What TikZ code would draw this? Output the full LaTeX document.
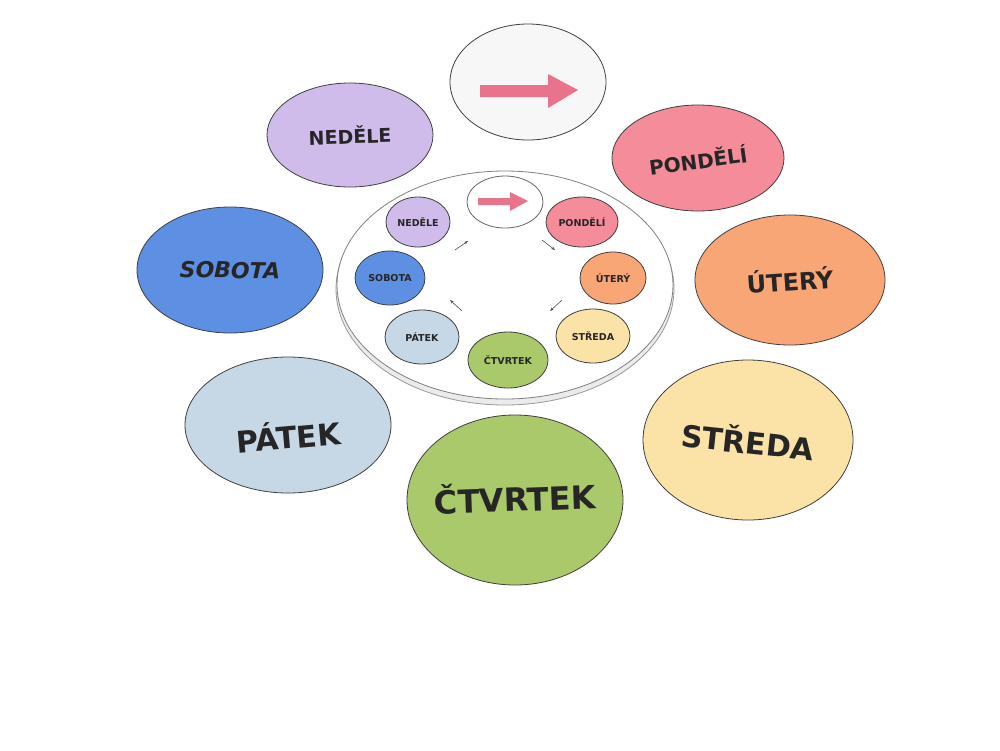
\documentclass[tikz,border=0pt]{standalone}
\usepackage{fontspec}
\setmainfont{DejaVu Sans}
\usetikzlibrary{shapes.geometric,arrows.meta}
\definecolor{cLav}{HTML}{CFBCEB}
\definecolor{cPink}{HTML}{F58C99}
\definecolor{cBlue}{HTML}{5D8FE2}
\definecolor{cOr}{HTML}{F9A677}
\definecolor{cLb}{HTML}{C6D8E6}
\definecolor{cYe}{HTML}{FBE2A6}
\definecolor{cGr}{HTML}{A9C96B}
\definecolor{cArr}{HTML}{E8738A}
\tikzset{
 disc/.style={ellipse,draw=black!75,line width=0.8pt,inner sep=0pt},
 lbl/.style={font=\bfseries,text=black!85},
 slbl/.style={text=black!85,font=\bfseries\fontsize{9.5}{10}\selectfont},
 tiny/.style={-{Stealth[length=4pt]},black!70,line width=0.6pt}
}
\begin{document}
\begin{tikzpicture}[x=1pt,y=-1pt]
\useasboundingbox (0,0) rectangle (1000,750);
\fill[white] (0,0) rectangle (1000,750);
% big discs
\node[disc,fill=black!3,minimum width=156,minimum height=116] (arr) at (528,82) {};
\fill[cArr] (480,85) -- (548,85) -- (548,74) -- (578,90) -- (548,108) -- (548,97) -- (480,97) -- cycle;
\node[disc,fill=cLav,minimum width=166,minimum height=104] (ne) at (350,135) {};
\node[lbl,font=\bfseries\fontsize{19}{19}\selectfont,rotate=2] (tne) at (ne) {NEDĚLE};
\node[disc,fill=cPink,minimum width=172,minimum height=106] (po) at (698,158) {};
\node[lbl,font=\bfseries\fontsize{20}{20}\selectfont,rotate=8] (tpo) at (698,160) {PONDĚLÍ};
\node[disc,fill=cBlue,minimum width=186,minimum height=126] (so) at (230,270) {};
\node[lbl,font=\bfseries\itshape\fontsize{22}{22}\selectfont,rotate=-1] (tso) at (so) {SOBOTA};
\node[disc,fill=cOr,minimum width=190,minimum height=130] (ut) at (790,280) {};
\node[lbl,font=\bfseries\fontsize{24}{24}\selectfont,rotate=4] (tut) at (ut) {ÚTERÝ};
\node[disc,fill=cLb,minimum width=206,minimum height=136] (pa) at (288,425) {};
\node[lbl,font=\bfseries\fontsize{30}{30}\selectfont,rotate=5] (tpa) at (288,435) {PÁTEK};
\node[disc,fill=cYe,minimum width=210,minimum height=160] (st) at (748,440) {};
\node[lbl,font=\bfseries\fontsize{30}{30}\selectfont,rotate=-6] (tst) at (748,440) {STŘEDA};
\node[disc,fill=cGr,minimum width=216,minimum height=170] (ct) at (515,500) {};
\node[lbl,font=\bfseries\fontsize{32}{32}\selectfont,rotate=2] (tct) at (515,497) {ČTVRTEK};
% central plate
\node[disc,fill=black!8,draw=black!40,minimum width=338,minimum height=232] (plb) at (505,289) {};
\node[disc,fill=white,draw=black!50,minimum width=336,minimum height=228] (pl) at (505,285) {};
% small discs
\node[disc,fill=white,draw=black!60,minimum width=76,minimum height=52] (sarr) at (505,202) {};
\fill[cArr] (478,198) -- (510,198) -- (510,192) -- (528,201) -- (510,211) -- (510,205) -- (478,205) -- cycle;
\node[disc,fill=cLav,minimum width=64,minimum height=50] (sne) at (418,222) {};
\node[slbl] at (sne) {NEDĚLE};
\node[disc,fill=cPink,minimum width=72,minimum height=50] (spo) at (582,222) {};
\node[slbl] at (spo) {PONDĚLÍ};
\node[disc,fill=cBlue,minimum width=70,minimum height=54] (sso) at (390,278) {};
\node[slbl] at (sso) {SOBOTA};
\node[disc,fill=cOr,minimum width=66,minimum height=52] (sut) at (613,278) {};
\node[slbl] at (sut) {ÚTERÝ};
\node[disc,fill=cLb,minimum width=74,minimum height=54] (spa) at (422,337) {};
\node[slbl] at (spa) {PÁTEK};
\node[disc,fill=cYe,minimum width=74,minimum height=54] (sst) at (593,336) {};
\node[slbl] at (sst) {STŘEDA};
\node[disc,fill=cGr,minimum width=80,minimum height=56] (sct) at (508,360) {};
\node[slbl] at (sct) {ČTVRTEK};
% tiny arrows
\coordinate (a1) at (455,250); \coordinate (a2) at (468,241);
\coordinate (b1) at (542,240); \coordinate (b2) at (555,250);
\coordinate (c1) at (562,300); \coordinate (c2) at (550,311);
\coordinate (d1) at (462,311); \coordinate (d2) at (450,300);
\draw[tiny] (a1) -- (a2);
\draw[tiny] (b1) -- (b2);
\draw[tiny] (c1) -- (c2);
\draw[tiny] (d1) -- (d2);
\end{tikzpicture}
\end{document}
